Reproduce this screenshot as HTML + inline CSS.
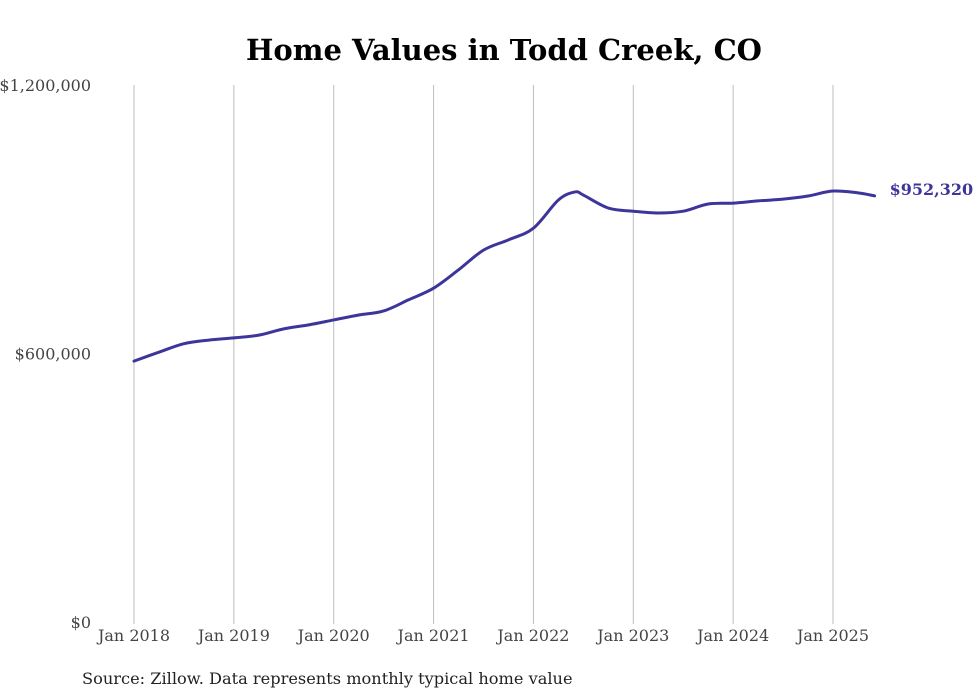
<!DOCTYPE html>
<html><head><meta charset="utf-8"><style>
html,body{margin:0;padding:0;background:#fff;}
svg{display:block;font-family:"DejaVu Serif","Liberation Serif",serif;}
</style></head><body>
<svg id="chart" width="980" height="699" viewBox="0 0 980 699">
<text x="504" y="60" text-anchor="middle" font-size="29" font-weight="bold" fill="#000">Home Values in Todd Creek, CO</text>
<g id="grid"></g><g id="yticks"></g><g id="xticks"></g>
<path id="line" fill="none" stroke="#3d3599" stroke-width="3" stroke-linejoin="round" stroke-linecap="round"/>
<text id="endlabel" font-size="16" font-weight="bold" fill="#3d3599"></text>
<text x="82" y="684" font-size="16.2" fill="#222">Source: Zillow. Data represents monthly typical home value</text>
</svg>
<script>
const months = [0,3,6,9,12,15,18,21,24,27,30,33,36,39,42,45,48,51,53,54,57,60,63,66,69,72,75,78,81,84,87,89];
const values = [583000,603000,622000,630000,635000,641000,655000,664000,675000,686000,695000,720000,746000,787000,831000,854000,880000,943000,961000,954000,925000,918000,914000,918000,934000,936000,941000,945000,952000,963000,959000,952320];
const xTickLabels = ["Jan 2018","Jan 2019","Jan 2020","Jan 2021","Jan 2022","Jan 2023","Jan 2024","Jan 2025"];
const yTickValues = [0,600000,1200000];
const yTickLabels = ["$0","$600,000","$1,200,000"];
const NS="http://www.w3.org/2000/svg";
const x = m => 134 + m*(699/84);
const y = v => 622 - v*(537/1200000);
function mk(t,a,p,txt){const e=document.createElementNS(NS,t);for(const k in a)e.setAttribute(k,a[k]);if(txt!==undefined)e.textContent=txt;document.getElementById(p).appendChild(e);return e;}
xTickLabels.forEach((l,i)=>{
  const gl=mk('line',{x1:x(i*12),x2:x(i*12),y1:85,y2:624,stroke:'#bdbdbd','stroke-width':1},'grid');
  
  
  const t=mk('text',{x:x(i*12),y:641,'text-anchor':'middle','font-size':16,fill:'#444'},'xticks',l);
  
  
});
yTickValues.forEach((v,i)=>{
  const t=mk('text',{x:91,y:y(v)+6,'text-anchor':'end','font-size':16,fill:'#444'},'yticks',yTickLabels[i]);
  
  
});
const pts=months.map((m,i)=>[x(m),y(values[i])]);
let d='M'+pts[0][0]+','+pts[0][1];
for(let i=0;i<pts.length-1;i++){
  const p0=pts[Math.max(0,i-1)],p1=pts[i],p2=pts[i+1],p3=pts[Math.min(pts.length-1,i+2)];
  const c1=[p1[0]+(p2[0]-p0[0])/6,p1[1]+(p2[1]-p0[1])/6],c2=[p2[0]-(p3[0]-p1[0])/6,p2[1]-(p3[1]-p1[1])/6];
  d+=' C'+c1+' '+c2+' '+p2;
}
document.getElementById('line').setAttribute('d',d);
const last=pts[pts.length-1];
const el=document.getElementById('endlabel');
el.setAttribute('x',last[0]+15);el.setAttribute('y',last[1]-1);
el.textContent='$'+values[values.length-1].toLocaleString('en-US');
</script>
</body></html>
